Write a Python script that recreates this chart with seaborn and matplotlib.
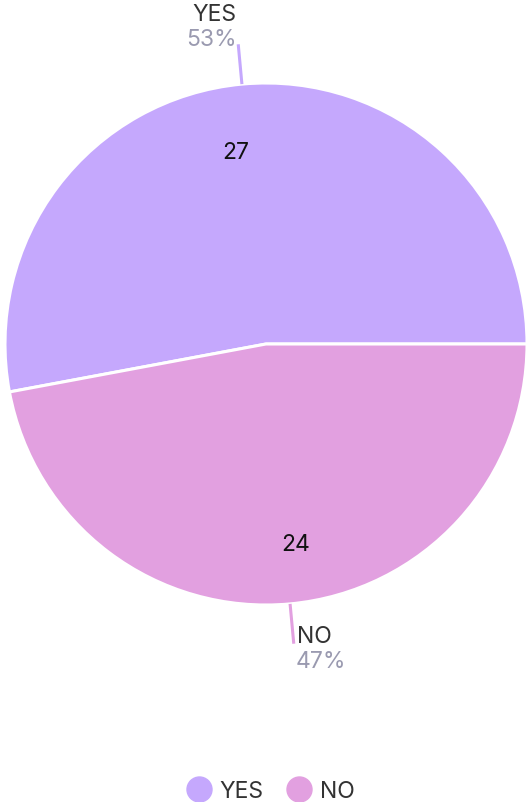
import numpy as np
import matplotlib
matplotlib.use("Agg")
import matplotlib.pyplot as plt
from matplotlib.lines import Line2D
import seaborn as sns

categories = ["YES", "NO"]
values = [27, 24]
colors = ["#c5a8fd", "#e2a0e0"]

sns.set_theme(style="white")
plt.rcParams['font.family'] = ['Inter', 'DejaVu Sans']

W, H = 530, 803
fig = plt.figure(figsize=(W / 100, H / 100), dpi=100)
ax = fig.add_axes([0, 0, 1, 1])

cx, cy, R = 266, H - 345, 261
wedges, _ = ax.pie(values, colors=colors, startangle=0, counterclock=True,
                   center=(cx, cy), radius=R, frame=True,
                   wedgeprops=dict(edgecolor="white", linewidth=2.2))
ax.set_xlim(0, W)
ax.set_ylim(0, H)
ax.axis("off")

FS = 16.5
total = sum(values)
for w, cat, v, col in zip(wedges, categories, values, colors):
    mid = np.deg2rad((w.theta1 + w.theta2) / 2)
    c, s = np.cos(mid), np.sin(mid)
    # value inside
    ax.text(cx + 0.755 * R * c - (12 if s > 0 else -12), cy + 0.755 * R * s - 4, str(v),
            ha="center", va="center", fontsize=FS, color="#111111")
    # leader line
    x0, y0 = cx + R * c, cy + R * s
    x1, y1 = cx + (R + 40) * c, cy + (R + 40) * s
    ax.plot([x0, x1], [y0, y1], color=col, lw=2.2, solid_capstyle="butt")
    pct = f"{round(100 * v / total)}%"
    if s > 0:
        ax.text(x1 - 2, y1 + 30, cat, ha="right", va="center", fontsize=FS, color="#333333")
        ax.text(x1 - 1, y1 + 5, pct, ha="right", va="center", fontsize=FS, color="#9a9ab0")
    else:
        ax.text(x1 + 3, y1 + 8, cat, ha="left", va="center", fontsize=FS, color="#333333")
        ax.text(x1 + 2, y1 - 17, pct, ha="left", va="center", fontsize=FS, color="#9a9ab0")

handles = [Line2D([0], [0], marker="o", linestyle="", markersize=18,
                  markerfacecolor=c, markeredgecolor=c) for c in colors]
ax.legend(handles, categories, loc="lower center", bbox_to_anchor=(0.51, -0.026),
          ncol=2, frameon=False, fontsize=FS, handletextpad=0.35, columnspacing=1.0,
          labelcolor="#333333", handlelength=1.1)

fig.savefig("out.png", dpi=100)
